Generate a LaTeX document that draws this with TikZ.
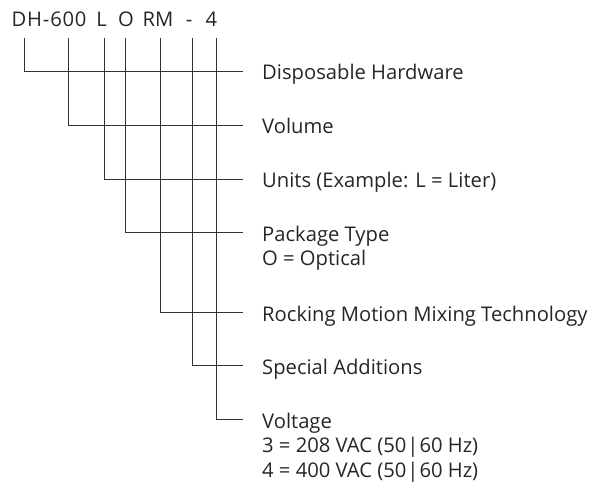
\documentclass[tikz,border=0pt]{standalone}
\usepackage{fontspec}
\setmainfont{Open Sans}
\newcommand{\lblfont}{\fontsize{20.2}{24.5}\selectfont}
\begin{document}
\begin{tikzpicture}[x=1pt,y=-1pt,
  lbl/.style={anchor=base west,inner sep=0pt,text=black!85,font=\lblfont},
  ttl/.style={anchor=base,inner sep=0pt,text=black!85,font=\lblfont},
  conn/.style={draw=black!80,line width=0.9pt}]
\useasboundingbox (0,0) rectangle (600,484);
% title pieces
\node[ttl,anchor=base west] (tDH) at (11.5,27) {\addfontfeature{LetterSpace=4}DH-600};
\node[ttl] (tL) at (101.5,27) {L};
\node[ttl] (tO) at (126,27) {O};
\node[ttl] (tRM) at (158,27) {RM};
\node[ttl] (tM) at (189,27) {-};
\node[ttl] (t4) at (211.5,27) {4};
% labels
\node[lbl] (l1) at (262,80) {Disposable Hardware};
\node[lbl] (l2) at (262,134) {Volume};
\node[lbl] (l3) at (262,188) {Units (Example: L = Liter)};
\node[lbl] (l4) at (262,241) {\begin{tabular}[t]{@{}l@{}}Package Type\\O = Optical\end{tabular}};
\node[lbl] (l5) at (262,321) {Rocking Motion Mixing Technology};
\node[lbl] (l6) at (262,374) {Special Additions};
\node[lbl] (l7) at (262,428) {\begin{tabular}[t]{@{}l@{}}Voltage\\3 = 208 VAC (50\kern1pt|\kern1pt60 Hz)\\4 = 400 VAC (50\kern1pt|\kern1pt60 Hz)\end{tabular}};
% connector points
\foreach \n/\x/\y in {1/24/71, 2/68/125, 3/104/179, 4/125/232, 5/160/312, 6/192/365, 7/216/419}{
  \coordinate (top\n) at (\x,38);
  \coordinate (c\n) at (\x,\y);
  \coordinate (e\n) at (243,\y);
}
\foreach \n in {1,...,7}{
  \draw[conn] (top\n) -- (c\n) -- (e\n);
}
\end{tikzpicture}
\end{document}
